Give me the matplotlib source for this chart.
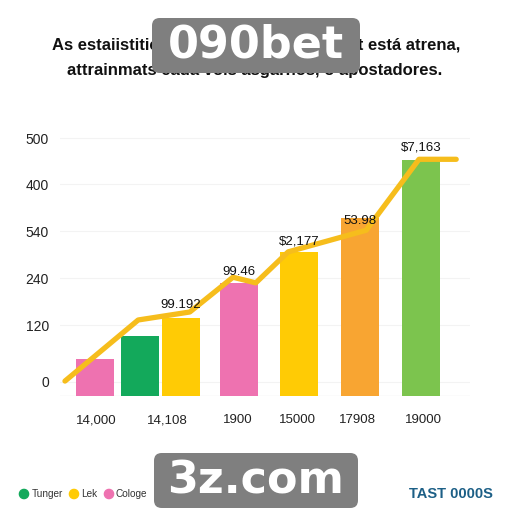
import matplotlib
matplotlib.use("Agg")
import matplotlib.pyplot as plt
from matplotlib.patches import FancyBboxPatch

# ---- data ----
bar_values = [49, 98, 136, 211, 277, 349, 472]
bar_colors = ["#EE72B0", "#13A95B", "#FFCB05", "#EE72B0", "#FFCB05", "#F8A532", "#7CC44E"]
line_values = [2, 132, 149, 223, 211, 277, 323, 474, 474]
ytick_values = [0, 121, 221, 321, 421, 519]
ytick_labels = ["0", "120", "240", "540", "400", "500"]
xtick_labels = ["14,000", "14,108", "1900", "15000", "17908", "19000"]
point_labels = ["99.192", "99.46", "$2,177", "53.98", "$7,163"]
legend_labels = ["Tunger", "Lek", "Cologe"]
legend_colors = ["#13A95B", "#FFCB05", "#EE72B0"]
title_lines = ["As estaiistiticas do 090bet no mercadot está atrena,",
               "attrainmats cada vois asgarnos, o apostadores."]

# ---- layout ----
bar_x = [0, 0.75, 1.43, 2.4, 3.4, 4.42, 5.43]
line_x = [-0.5, 0.72, 1.58, 2.3, 2.68, 3.22, 4.52, 5.4, 6.02]
xtick_x = [0.02, 1.2, 2.38, 3.38, 4.38, 5.47]
label_xy = [(1.43, 164), (2.4, 234), (3.4, 300), (4.42, 342), (5.43, 500)]

fig = plt.figure(figsize=(5.12, 5.12), dpi=100)
fig.patch.set_facecolor("white")
ax = fig.add_axes([60/512, 116/512, 410/512, 271/512])
ax.set_xlim(-0.583, 6.25)
ax.set_ylim(-29.8, 547)

for v in ytick_values:
    ax.axhline(v, color="#F3F3F3", lw=0.8, zorder=0)
ax.axhline(-29.8, color="#EDEDED", lw=1, zorder=0)

ax.bar(bar_x, [v + 29.8 for v in bar_values], bottom=-29.8, width=0.64,
       color=bar_colors, zorder=2)
ax.plot(line_x, line_values, color="#F6BD1C", lw=3.8, solid_joinstyle="round",
        solid_capstyle="round", zorder=3)

for (x, y), t in zip(label_xy, point_labels):
    ax.text(x, y, t, ha="center", va="center", fontsize=9.5, color="#111111",
            family="Liberation Sans", zorder=4)

ax.set_yticks(ytick_values)
ax.set_yticklabels(ytick_labels, family="Liberation Sans", fontsize=10, color="#222222")
ax.set_xticks(xtick_x)
ax.set_xticklabels(xtick_labels, family="Liberation Sans", fontsize=9.5, color="#222222")
ax.tick_params(length=0)
ax.tick_params(axis="y", pad=8)
ax.tick_params(axis="x", pad=13)
for s in ax.spines.values():
    s.set_visible(False)

# title
fig.text(256/512, 1 - 45/512, title_lines[0], ha="center", va="center",
         fontsize=12, fontweight="bold", family="Liberation Sans", color="#111111")
fig.text(255/512, 1 - 71/512, title_lines[1], ha="center", va="center",
         fontsize=12, fontweight="bold", family="Liberation Sans", color="#111111")

# legend
lx = [24, 74, 109]
tx = [32, 81, 116]
for x, t_x, lab, c in zip(lx, tx, legend_labels, legend_colors):
    fig.patches.append(plt.Circle((x/512, 1 - 494/512), 4.6/512, color=c,
                                  transform=fig.transFigure, figure=fig))
    fig.text(t_x/512, 1 - 494/512, lab, ha="left", va="center", fontsize=7.2,
             color="#333333", family="Liberation Sans")
fig.text(493/512, 1 - 494/512, "TAST 0000S", ha="right", va="center", fontsize=10.5,
         fontweight="bold", color="#1C5F86", family="Liberation Sans")

# watermark boxes
for (x0, y0, x1, y1), t in [((152, 18, 360, 73), "090bet"), ((154, 453, 358, 508), "3z.com")]:
    box = FancyBboxPatch((x0/512, 1 - y1/512), (x1 - x0)/512, (y1 - y0)/512,
                         boxstyle="round,pad=0,rounding_size=0.015",
                         transform=fig.transFigure, facecolor="#7F7F7F",
                         edgecolor="none", figure=fig, zorder=10)
    fig.patches.append(box)
    fig.text((x0 + x1)/1024, 1 - (y0 + y1)/1024, t, ha="center", va="center",
             fontsize=32, fontweight="bold", color="white", family="DejaVu Sans",
             zorder=11)

fig.savefig("out.png", dpi=100)
